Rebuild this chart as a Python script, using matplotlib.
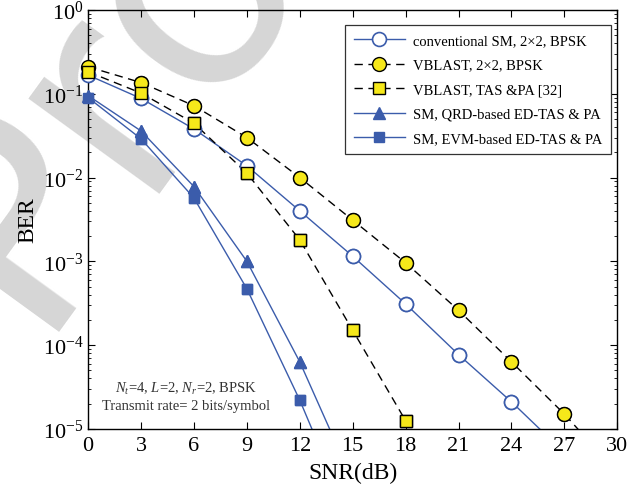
import numpy as np
import matplotlib
matplotlib.use("Agg")
import matplotlib.pyplot as plt

plt.rcParams['font.family'] = ['Liberation Serif', 'DejaVu Serif']
plt.rcParams['mathtext.fontset'] = 'custom'
plt.rcParams['mathtext.rm'] = 'Liberation Serif'
plt.rcParams['mathtext.it'] = 'Liberation Serif:italic'

# BER vs SNR curves
snr = [0, 3, 6, 9, 12, 15, 18, 21, 24, 27, 30]
conv_sm = [0.167, 0.088, 0.038, 0.0138, 0.0040, 1.15e-3, 3.1e-4, 7.7e-5, 2.1e-5, 5.2e-6]
vblast = [0.21, 0.136, 0.072, 0.030, 0.010, 3.1e-3, 9.6e-4, 2.6e-4, 6.3e-5, 1.5e-5, 3e-6]
vblast_tas = [0.183, 0.102, 0.0445, 0.0113, 1.8e-3, 1.5e-4, 1.25e-5]
qrd_tas = [0.095, 0.036, 7.8e-3, 1.0e-3, 6.3e-5, 2.4e-6]
evm_tas = [0.09, 0.029, 5.7e-3, 4.7e-4, 2.2e-5, 7e-7]

labels = ["conventional SM, 2\u00d72, BPSK", "VBLAST, 2\u00d72, BPSK",
          "VBLAST, TAS &PA [32]", "SM, QRD-based ED-TAS & PA",
          "SM, EVM-based ED-TAS & PA"]
xticks = list(range(0, 31, 3))

blue = '#3b5cab'
yellow = '#f6e81a'

fig = plt.figure(figsize=(6.43, 4.89), dpi=100)
ax = fig.add_axes([0.137, 0.121, 0.823, 0.8565])
ax.patch.set_alpha(0)

# light grey watermark behind everything
fig.text(0.0482, 0.321, "Pro", rotation=54, fontsize=214, color='#d6d6d6',
         family='DejaVu Sans', ha='left', va='baseline', rotation_mode='anchor',
         zorder=-5)

styles = [
    dict(color=blue, ls='-', marker='o', mfc='white', mec=blue, ms=10, mew=1.2),
    dict(color='black', ls=(0, (6, 4)), marker='o', mfc=yellow, mec='black', ms=10, mew=1.0),
    dict(color='black', ls=(0, (6, 4)), marker='s', mfc=yellow, mec='black', ms=8, mew=1.0),
    dict(color=blue, ls='-', marker='^', mfc=blue, mec=blue, ms=8.5, mew=1.0),
    dict(color=blue, ls='-', marker='s', mfc=blue, mec=blue, ms=7.5, mew=1.0),
]
series = [conv_sm, vblast, vblast_tas, qrd_tas, evm_tas]

handles = []
for ys, st, lab in zip(series, styles, labels):
    xs = np.array(snr[:len(ys)], dtype=float)
    ys = np.array(ys)
    h, = ax.plot(xs, ys, lw=1.0, label=lab, **st)
    handles.append(h)
    # markers on the frame edge stay whole
    vis = ys >= 1e-5
    mk = {k: v for k, v in st.items() if k != 'ls'}
    ax.plot(xs[vis], ys[vis], ls='none', clip_on=False, zorder=3, **mk)

ax.set_yscale('log')
ax.set_xlim(0, 30)
ax.set_ylim(1e-5, 1)
ax.set_xticks(xticks)
ax.tick_params(which='both', direction='in', top=True, right=True, labelsize=16)
ax.tick_params(which='major', length=5, width=0.8)
ax.tick_params(which='minor', length=2.5, width=0.6)
ax.tick_params(axis='x', pad=5)
for s in ax.spines.values():
    s.set_linewidth(1.0)

ax.set_xlabel("SNR(dB)", fontsize=17, labelpad=5)
ax.set_ylabel("BER", fontsize=17, labelpad=3)

leg = ax.legend(handles=handles, loc='upper right', bbox_to_anchor=(0.989, 0.964),
                fontsize=10.5, numpoints=1, handlelength=3.5, handletextpad=0.6,
                labelspacing=0.78, fancybox=False, edgecolor='#333333',
                framealpha=1, borderpad=0.6, borderaxespad=0)
leg.get_frame().set_linewidth(0.9)

ax.text(0.185, 0.078, "$N_t$=4, $L$=2, $N_r$=2, BPSK\nTransmit rate= 2 bits/symbol",
        transform=ax.transAxes, ha='center', va='center', fontsize=10.5,
        color='#333333', linespacing=1.25)

fig.savefig("out.png", dpi=100)
